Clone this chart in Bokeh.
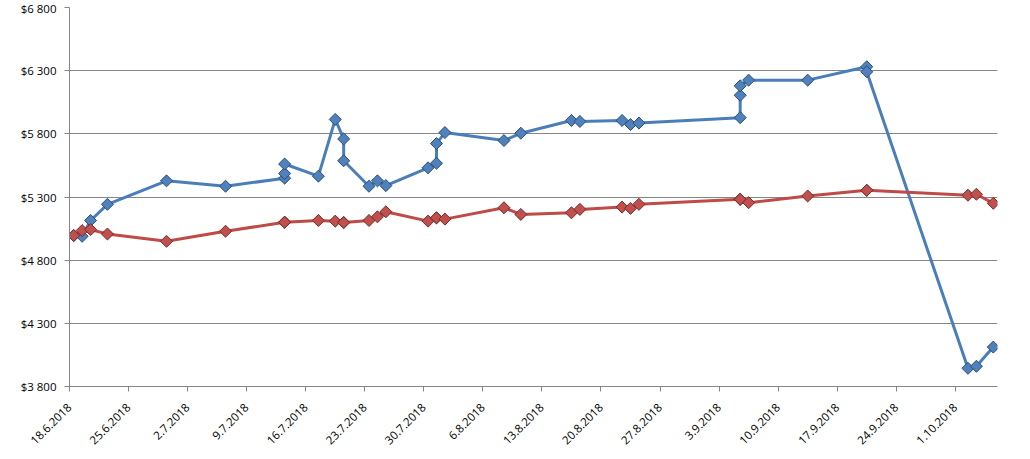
import pandas as pd
from bokeh.plotting import figure
from bokeh.models import FixedTicker, CustomJSTickFormatter, Range1d
from bokeh.embed import file_html
from bokeh.resources import INLINE
from math import pi

dates = ["2018-06-18", "2018-06-19", "2018-06-20", "2018-06-22", "2018-06-29",
         "2018-07-06", "2018-07-13", "2018-07-13", "2018-07-13", "2018-07-17",
         "2018-07-19", "2018-07-20", "2018-07-20", "2018-07-23", "2018-07-24",
         "2018-07-25", "2018-07-30", "2018-07-31", "2018-07-31", "2018-08-01",
         "2018-08-08", "2018-08-10", "2018-08-16", "2018-08-17", "2018-08-22",
         "2018-08-23", "2018-08-24", "2018-09-05", "2018-09-05", "2018-09-05",
         "2018-09-06", "2018-09-13", "2018-09-20", "2018-09-20", "2018-10-02",
         "2018-10-03", "2018-10-05"]
blue = [4995, 4989, 5114, 5242, 5428, 5385, 5449, 5486, 5561, 5465, 5914, 5760,
        5587, 5385, 5428, 5390, 5531, 5567, 5723, 5810, 5747, 5805, 5906, 5898,
        5906, 5874, 5885, 5928, 6105, 6180, 6225, 6225, 6331, 6291, 3944, 3960, 4112]
red = [4995, 5034, 5042, 5007, 4949, 5029, 5100, 5100, 5100, 5114, 5109, 5098,
       5098, 5114, 5143, 5183, 5109, 5135, 5135, 5125, 5215, 5162, 5175, 5202,
       5220, 5210, 5242, 5282, 5282, 5282, 5255, 5308, 5353, 5353, 5314, 5322, 5250]
tick_labels = ["18.6.2018", "25.6.2018", "2.7.2018", "9.7.2018", "16.7.2018",
               "23.7.2018", "30.7.2018", "6.8.2018", "13.8.2018", "20.8.2018",
               "27.8.2018", "3.9.2018", "10.9.2018", "17.9.2018", "24.9.2018",
               "1.10.2018"]
y_ticks = [3800, 4300, 4800, 5300, 5800, 6300, 6800]

# points sit in the middle of their day (date axis)
x = pd.to_datetime(dates) + pd.Timedelta(hours=12)
tick_dates = pd.to_datetime(tick_labels, format="%d.%m.%Y")
tick_ms = [int(t.value // 10**6) for t in tick_dates]

start = pd.Timestamp("2018-06-18")
end = pd.Timestamp("2018-10-06")

p = figure(width=1022, height=454, x_axis_type="datetime",
           output_backend="svg", toolbar_location=None,
           x_range=Range1d(start, end), y_range=Range1d(3800, 6800),
           min_border_left=69, min_border_right=25, min_border_top=7,
           min_border_bottom=68, frame_width=928, frame_height=379)
p.outline_line_color = None
p.background_fill_color = "white"

grid_col = "#868686"
p.xgrid.grid_line_color = None
p.ygrid.grid_line_color = grid_col
p.ygrid.grid_line_width = 1

font = "Open Sans"
for ax in (p.xaxis[0], p.yaxis[0]):
    ax.axis_line_color = grid_col
    ax.major_tick_line_color = grid_col
    ax.minor_tick_line_color = None
    ax.major_tick_in = 0
    ax.major_tick_out = 5
    ax.major_label_text_font = font
    ax.major_label_text_font_size = "11.5px"
    ax.major_label_text_color = "black"

p.yaxis.ticker = FixedTicker(ticks=y_ticks)
p.yaxis.formatter = CustomJSTickFormatter(code="""
return '$' + Math.round(tick).toString().replace(/\\B(?=(\\d{3})+(?!\\d))/g, ' ');
""")
p.yaxis.major_label_standoff = 8

p.xaxis.ticker = FixedTicker(ticks=tick_ms)
p.xaxis.major_label_overrides = {t: lab for t, lab in zip(tick_ms, tick_labels)}
p.xaxis.major_label_orientation = pi / 4
p.xaxis.major_label_standoff = 14

# series 1 (blue)
p.line(x, blue, line_color="#4A7EBB", line_width=3)
p.scatter(x, blue, marker="square", angle=pi / 4, size=8.5,
          fill_color="#4F81BD", line_color="#2C4D75", line_width=1)
# series 2 (red)
p.line(x, red, line_color="#BE4B48", line_width=3)
p.scatter(x, red, marker="square", angle=pi / 4, size=8.5,
          fill_color="#C0504D", line_color="#772C2A", line_width=1)

open("out.html", "w").write(file_html(p, INLINE))
